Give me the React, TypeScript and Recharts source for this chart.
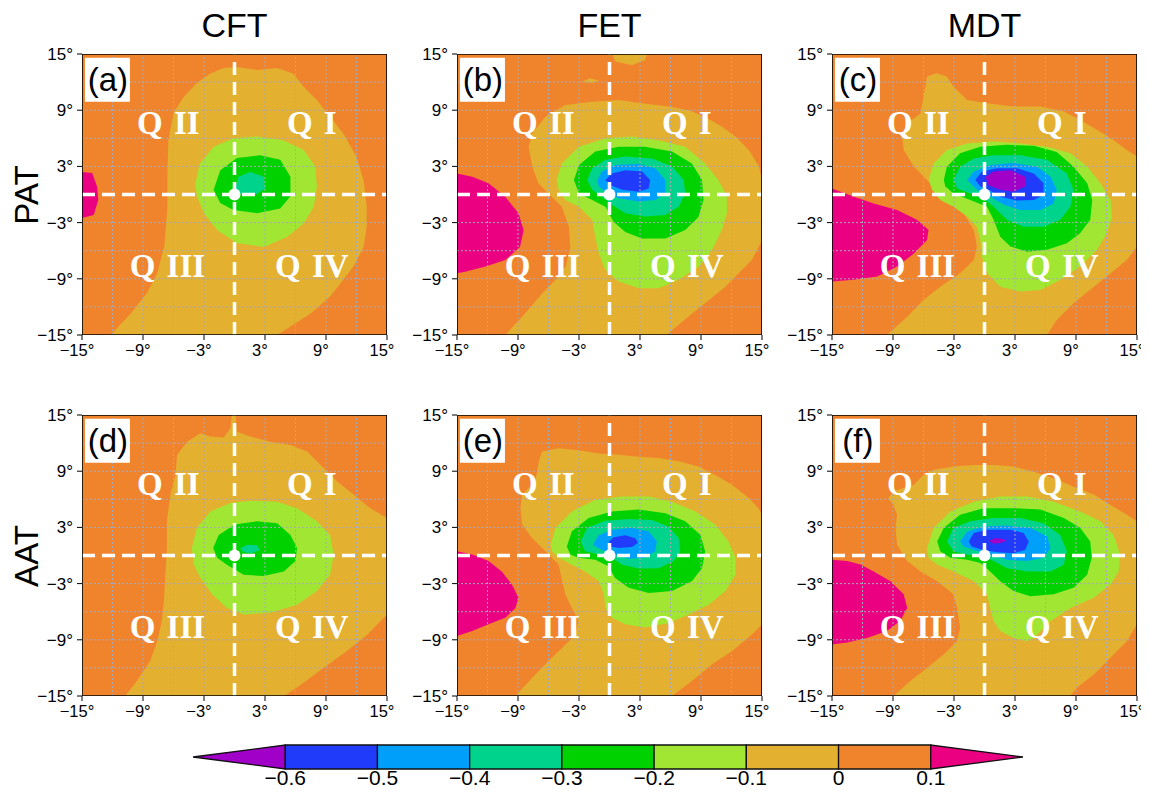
import React from "react"
import { ScatterChart, Scatter, XAxis, YAxis } from "recharts"

type Pt = [number, number]

const AXIS_TICKS = [-15, -9, -3, 3, 9, 15]
const GRID_STEPS = [-12, -9, -6, -3, 3, 6, 9, 12]
const COLUMN_TITLES = ["CFT", "FET", "MDT"]
const ROW_TITLES = ["PAT", "AAT"]
const PANEL_TAGS = ["(a)", "(b)", "(c)", "(d)", "(e)", "(f)"]
const QUADRANTS = [
  { x: -6.5, y: 7.6, t: "Q II" },
  { x: 7.6, y: 7.6, t: "Q I" },
  { x: -6.6, y: -7.6, t: "Q III" },
  { x: 7.6, y: -7.6, t: "Q IV" },
]

// contour levels and the band colours (below -0.6 ... above 0.1)
const LEVELS = [-0.6, -0.5, -0.4, -0.3, -0.2, -0.1, 0, 0.1]
const BAND_COLORS = [
  "#A000C8", "#203CFA", "#00A0FA", "#00D48C", "#00D200",
  "#A2E634", "#E4B030", "#F0842C", "#EC0082",
]
const PURPLE = 0, BLUE = 1, LBLUE = 2, TEAL = 3, GREEN = 4, LGREEN = 5, YELLOW = 6, ORANGE = 7, MAGENTA = 8

const DOMAIN_BOX: Pt[] = [[-15, -15], [-15, 15], [15, 15], [15, -15]]

// (a) CFT / PAT
const A_YEL: Pt[] = [[-12.2, -15], [-10.2, -12.7], [-8.6, -10.5], [-7.6, -8.4], [-6.9, -5.5], [-6.6, -1.3], [-6.6, 2.3], [-6.5, 5.8], [-6.0, 8.7], [-5.0, 10.4], [-3.7, 11.9], [-2.4, 12.9], [-1.1, 13.5], [0.2, 13.6], [2.2, 13.3], [4.2, 13.5], [5.8, 12.9], [6.8, 11.5], [8.1, 10.1], [9.4, 8.3], [10.7, 6.5], [12.0, 4.0], [12.7, 1.5], [13.0, -1.3], [13.0, -3.4], [12.7, -5.6], [11.7, -7.7], [10.7, -9.1], [9.4, -10.9], [7.5, -12.7], [5.5, -14.1], [4.2, -15]]
const A_LGR: Pt[] = [[-3.85, 1.2], [-3.4, 3.3], [-2.05, 5.1], [-0.1, 6.0], [2.2, 6.2], [4.8, 5.8], [6.8, 4.75], [7.95, 3.0], [8.1, 0.85], [7.8, -1.3], [6.8, -3.1], [5.2, -4.5], [2.9, -5.6], [0.25, -5.2], [-1.7, -3.8], [-3.0, -2.0], [-3.7, -0.2]]
const A_GRN: Pt[] = [[-2.05, 0.5], [-1.4, 2.6], [0.25, 3.9], [2.5, 4.2], [4.5, 3.7], [5.5, 1.9], [5.5, -0.2], [4.5, -1.5], [2.2, -2.0], [-0.1, -1.65], [-1.4, -0.9]]
const A_TEA: Pt[] = [[0.0, 0.5], [0.4, 1.9], [1.55, 2.4], [2.9, 1.9], [3.0, 0.65], [2.2, 0.05], [0.6, 0.05]]
const A_MAG: Pt[] = [[-15, 2.4], [-14.0, 2.3], [-13.5, 0.8], [-13.4, -0.6], [-13.85, -2.2], [-15, -2.5]]

// (b) FET / PAT
const B_YEL: Pt[] = [[-10.25, -15], [-8.3, -12.7], [-6.6, -10.55], [-5.3, -9.1], [-4.3, -7.7], [-3.85, -5.6], [-4.0, -3.4], [-4.7, -1.3], [-6.0, 0.1], [-7.0, 1.2], [-7.6, 3.0], [-7.95, 5.1], [-7.6, 6.5], [-6.3, 8.3], [-4.35, 9.55], [-1.7, 9.9], [0.9, 10.1], [3.5, 9.7], [5.8, 9.4], [7.8, 9.0], [9.4, 8.3], [11.1, 7.2], [12.4, 6.2], [13.7, 4.75], [14.7, 3.0], [15, 1.5], [15, -4.9], [14.0, -7.0], [12.7, -8.4], [11.4, -9.85], [9.4, -11.6], [7.8, -13.0], [6.15, -14.5], [5.65, -15]]
const B_YEL_TOP: Pt[] = [[0.25, 15], [0.6, 14.2], [2.2, 13.8], [3.5, 14.35], [3.7, 15]]
const B_YEL_SPOT: Pt[] = [[-2.7, 12.05], [-1.9, 12.4], [-1.05, 12.15], [-1.7, 11.9]]
const B_LGR: Pt[] = [[-5.2, 1.55], [-4.7, 3.3], [-3.0, 5.1], [-0.4, 6.0], [2.2, 6.2], [4.8, 5.8], [7.45, 5.1], [9.4, 3.3], [10.7, 1.55], [11.55, -0.2], [11.55, -2.0], [11.05, -3.8], [10.1, -5.9], [8.8, -7.7], [6.8, -9.1], [4.85, -10.0], [2.9, -10.0], [0.9, -9.3], [-0.4, -8.05], [-1.05, -6.3], [-1.4, -4.5], [-1.7, -2.7], [-3.0, -1.3], [-4.35, -0.6], [-5.0, 0.5]]
const B_GRN: Pt[] = [[-3.5, 1.55], [-3.0, 3.15], [-1.4, 4.6], [0.9, 5.1], [3.5, 5.1], [6.15, 4.6], [8.1, 3.3], [9.1, 1.55], [9.25, -0.6], [8.75, -2.4], [7.45, -3.8], [5.5, -4.7], [3.2, -4.7], [1.55, -4.0], [0.4, -2.9], [-0.4, -1.3], [-1.7, -0.6], [-3.0, 0.1]]
const B_TEA: Pt[] = [[-2.2, 1.55], [-1.7, 2.8], [-0.4, 3.7], [1.55, 4.05], [4.2, 3.85], [6.15, 3.0], [7.3, 1.55], [7.45, 0.1], [6.8, -1.3], [5.5, -2.2], [3.5, -2.35], [1.55, -2.0], [0.25, -1.1], [-0.75, -0.25], [-1.7, 0.5]]
const B_LBL: Pt[] = [[-1.2, 1.55], [-0.75, 2.45], [0.55, 3.15], [2.85, 3.25], [4.5, 2.8], [5.5, 1.55], [5.5, 0.1], [4.5, -0.6], [2.85, -0.75], [0.9, -0.4], [-0.4, 0.3], [-1.05, 0.85]]
const B_BLU: Pt[] = [[-0.4, 1.55], [0.25, 2.25], [1.55, 2.6], [3.2, 2.45], [4.0, 1.55], [3.85, 0.65], [2.85, 0.3], [1.25, 0.5], [0.1, 1.0]]
const B_MAG: Pt[] = [[-15, 2.25], [-13.5, 1.9], [-11.9, 1.2], [-10.25, -0.25], [-8.95, -2.0], [-8.45, -3.8], [-8.8, -5.6], [-10.25, -7.0], [-12.2, -7.7], [-14.2, -8.25], [-15, -8.4]]

// (c) MDT / PAT
const C_YEL: Pt[] = [[-9.6, -15], [-7.6, -13.05], [-6.0, -11.25], [-4.35, -9.85], [-2.4, -8.4], [-1.05, -7.0], [-0.75, -5.55], [-1.05, -3.8], [-2.05, -2.0], [-3.7, -0.25], [-5.35, 1.2], [-6.95, 3.0], [-7.95, 4.75], [-8.1, 6.2], [-7.6, 7.6], [-6.3, 8.65], [-6.0, 10.45], [-5.65, 12.6], [-4.7, 12.95], [-3.7, 12.6], [-3.05, 11.5], [-1.7, 10.1], [0.25, 9.75], [2.85, 9.4], [5.5, 9.4], [7.8, 8.85], [9.4, 7.95], [11.05, 6.9], [12.7, 5.8], [14.0, 4.75], [15, 4.05], [15, -5.55], [14.0, -7.0], [12.4, -8.4], [10.75, -9.85], [8.75, -11.6], [7.1, -13.4], [6.15, -15]]
const C_LGR: Pt[] = [[-5.5, 1.55], [-5.0, 3.3], [-3.7, 4.75], [-1.7, 5.45], [0.9, 5.65], [3.5, 5.45], [6.15, 5.1], [8.45, 4.4], [10.1, 3.0], [11.4, 1.2], [12.4, -0.6], [12.55, -2.35], [12.05, -4.15], [11.05, -5.9], [9.4, -7.7], [7.45, -9.1], [5.5, -10.2], [3.5, -10.35], [1.55, -9.85], [0.25, -8.4], [-0.25, -6.65], [-0.4, -4.85], [-0.75, -3.45], [-1.7, -2.35], [-3.05, -1.3], [-4.35, -0.6], [-5.15, 0.5]]
const C_GRN: Pt[] = [[-4.0, 1.55], [-3.7, 2.95], [-2.4, 4.4], [-0.4, 5.1], [2.2, 5.3], [4.85, 5.2], [7.1, 4.55], [8.75, 3.0], [10.1, 1.2], [10.6, -0.6], [10.4, -2.7], [9.4, -4.15], [8.1, -5.2], [6.15, -5.9], [4.2, -6.1], [2.55, -5.55], [1.55, -4.5], [0.9, -2.7], [0.25, -1.3], [-1.4, -0.6], [-3.05, 0.1], [-3.85, 0.85]]
const C_TEA: Pt[] = [[-3.05, 1.55], [-2.4, 2.95], [-1.05, 3.85], [0.9, 4.2], [3.5, 4.2], [6.15, 3.7], [8.1, 2.25], [8.75, 0.5], [8.45, -1.3], [7.45, -2.7], [5.8, -3.45], [3.85, -3.45], [2.2, -2.7], [0.9, -1.3], [-0.1, -0.4], [-1.4, 0.1], [-2.7, 0.65]]
const C_LBL: Pt[] = [[-1.7, 1.55], [-1.05, 2.45], [0.55, 3.15], [2.85, 3.35], [5.15, 3.0], [6.5, 1.9], [7.1, 0.5], [6.8, -0.95], [5.5, -1.65], [3.5, -1.65], [1.9, -1.1], [0.55, -0.25], [-0.75, 0.5]]
const C_BLU: Pt[] = [[-0.9, 1.55], [-0.25, 2.45], [1.25, 2.8], [3.2, 2.8], [4.85, 2.25], [5.8, 1.2], [5.8, -0.05], [4.85, -0.6], [3.2, -0.65], [1.55, -0.25], [0.4, 0.5], [-0.4, 0.85]]
const C_PUR: Pt[] = [[0.1, 1.9], [0.9, 2.45], [2.55, 2.6], [4.0, 1.9], [4.0, 0.85], [2.85, 0.3], [1.55, 0.5], [0.4, 1.0]]
const C_MAG: Pt[] = [[-15, 0.65], [-12.85, -0.25], [-10.9, -0.95], [-8.6, -1.65], [-6.65, -2.7], [-5.5, -3.8], [-5.65, -4.85], [-6.95, -6.3], [-8.6, -7.7], [-10.55, -8.75], [-12.85, -9.1], [-15, -9.3]]

// (d) CFT / AAT
const D_YEL: Pt[] = [[-10.75, -15], [-9.6, -13.4], [-8.3, -11.25], [-7.6, -9.15], [-7.15, -7.0], [-6.95, -4.9], [-6.8, -2.05], [-6.65, 0.8], [-6.65, 3.65], [-6.3, 6.5], [-5.8, 8.6], [-5.65, 10.75], [-4.65, 12.15], [-3.35, 13.05], [-2.4, 12.7], [-1.05, 12.6], [-0.4, 13.6], [-0.25, 15], [0.1, 15], [0.25, 13.2], [1.55, 12.7], [3.5, 12.15], [5.5, 11.8], [7.15, 11.1], [8.45, 9.7], [10.1, 7.9], [11.7, 6.5], [13.35, 5.05], [15, 4.0], [15, -6.3], [13.05, -8.45], [11.05, -10.2], [8.75, -12.0], [6.15, -14.1], [4.85, -15]]
const D_LGR: Pt[] = [[-4.2, 0.8], [-3.7, 2.95], [-2.4, 4.7], [-0.4, 5.6], [1.55, 5.85], [4.2, 5.75], [6.15, 5.05], [8.1, 3.65], [9.4, 2.2], [9.75, 0.1], [9.4, -2.05], [8.1, -3.8], [6.15, -5.25], [3.5, -6.1], [0.9, -6.3], [-0.75, -5.6], [-2.2, -4.15], [-3.35, -2.4], [-4.0, -1.0]]
const D_GRN: Pt[] = [[-2.1, 0.8], [-1.55, 2.2], [0.0, 3.3], [2.2, 3.65], [4.2, 3.45], [5.5, 2.2], [6.15, 0.8], [6.0, -0.6], [4.85, -1.7], [2.85, -2.2], [0.9, -2.05], [-0.75, -1.0], [-1.7, -0.25]]
const D_TEA: Pt[] = [[0.55, 0.75], [1.25, 1.15], [2.2, 1.1], [2.5, 0.6], [1.7, 0.25], [0.9, 0.35]]

// (e) FET / AAT
const E_YEL: Pt[] = [[-9.25, -15], [-7.6, -13.05], [-6.0, -11.25], [-4.65, -9.85], [-3.35, -8.45], [-3.05, -7.0], [-3.7, -5.6], [-4.35, -4.15], [-4.65, -2.75], [-5.0, -0.95], [-6.3, 0.45], [-7.6, 1.85], [-8.6, 3.3], [-8.75, 5.05], [-8.6, 6.5], [-7.3, 7.9], [-6.95, 10.05], [-6.65, 11.1], [-5.0, 11.45], [-3.05, 11.25], [-1.05, 10.9], [0.9, 10.75], [2.85, 10.55], [4.85, 10.4], [6.8, 10.05], [8.75, 9.5], [10.4, 8.6], [12.05, 7.55], [13.7, 6.15], [14.65, 5.05], [15, 4.35], [15, -7.35], [14.0, -8.45], [12.05, -10.2], [10.1, -11.6], [8.1, -13.4], [6.15, -15]]
const E_LGR: Pt[] = [[-5.8, 1.15], [-5.3, 2.95], [-3.7, 4.7], [-1.4, 5.95], [1.25, 6.3], [3.85, 6.3], [6.15, 5.75], [8.45, 4.7], [10.4, 3.3], [11.7, 1.5], [12.4, -0.25], [12.4, -2.05], [11.4, -3.8], [9.75, -5.25], [7.8, -6.3], [5.8, -7.2], [3.5, -7.7], [1.55, -7.35], [0.25, -6.65], [-0.4, -5.6], [-0.55, -4.15], [-1.05, -2.75], [-2.4, -1.7], [-3.7, -1.0], [-5.0, -0.25], [-5.65, 0.45]]
const E_GRN: Pt[] = [[-4.2, 0.95], [-3.7, 2.6], [-2.05, 4.0], [0.25, 4.7], [2.85, 4.9], [5.5, 4.5], [7.45, 3.65], [8.95, 2.2], [9.4, 0.45], [9.1, -1.35], [8.1, -2.75], [6.15, -3.8], [3.85, -4.0], [1.9, -3.45], [0.55, -2.4], [-0.1, -1.15], [-1.4, -0.45], [-3.05, -0.25], [-3.85, 0.1]]
const E_TEA: Pt[] = [[-2.85, 1.5], [-2.2, 2.95], [-0.4, 3.7], [1.9, 3.9], [4.2, 3.8], [5.8, 3.1], [6.8, 1.85], [6.95, 0.45], [6.3, -0.6], [4.85, -1.35], [2.85, -1.4], [1.25, -1.0], [0.25, -0.25], [-1.05, 0.1], [-2.4, 0.45]]
const E_LBL: Pt[] = [[-1.65, 1.15], [-1.05, 2.2], [0.25, 2.75], [2.2, 2.95], [3.85, 2.6], [4.65, 1.5], [4.5, 0.45], [3.5, -0.25], [1.9, -0.35], [0.55, 0.1], [-0.75, 0.6]]
const E_BLU: Pt[] = [[-0.05, 1.5], [0.4, 1.95], [1.55, 2.15], [2.55, 1.85], [2.8, 1.35], [2.2, 0.9], [0.9, 0.8], [0.1, 0.95]]
const E_MAG: Pt[] = [[-15, 0.45], [-13.5, 0.1], [-11.9, -0.6], [-10.6, -1.7], [-9.6, -3.1], [-8.95, -4.5], [-9.25, -5.6], [-10.25, -6.65], [-11.9, -7.35], [-13.5, -8.05], [-15, -8.6]]

// (f) MDT / AAT
const F_YEL: Pt[] = [[-8.95, -15], [-7.3, -13.4], [-5.65, -12.0], [-4.0, -10.55], [-2.7, -9.15], [-2.4, -7.7], [-2.7, -5.6], [-3.05, -4.15], [-4.65, -2.75], [-6.3, -1.7], [-7.6, -0.6], [-8.6, 1.15], [-8.75, 2.95], [-8.6, 4.35], [-8.95, 5.4], [-9.45, 6.15], [-8.95, 6.85], [-6.95, 7.55], [-6.0, 8.6], [-5.0, 9.15], [-3.05, 9.5], [-1.05, 9.65], [0.9, 9.65], [2.85, 9.5], [4.85, 8.95], [6.8, 8.25], [8.75, 7.35], [10.75, 6.5], [12.4, 5.4], [14.0, 4.35], [15, 3.65], [15, -7.35], [14.0, -9.15], [12.4, -10.9], [10.75, -12.7], [9.1, -14.1], [8.45, -15]]
const F_LGR: Pt[] = [[-5.65, 0.8], [-5.0, 2.95], [-3.35, 4.7], [-1.05, 5.75], [1.55, 6.3], [4.2, 6.3], [6.8, 5.75], [9.4, 4.7], [11.4, 3.65], [12.7, 2.2], [13.35, 0.1], [13.2, -1.7], [12.4, -3.1], [10.75, -4.5], [8.45, -5.6], [6.5, -7.0], [4.85, -8.8], [4.2, -9.15], [2.85, -8.8], [1.55, -8.05], [0.9, -7.0], [0.55, -5.6], [0.25, -4.15], [-1.05, -2.75], [-3.05, -1.7], [-4.65, -1.0], [-5.5, -0.25]]
const F_GRN: Pt[] = [[-4.65, 1.5], [-4.0, 2.95], [-2.4, 4.35], [-0.1, 5.05], [2.85, 5.05], [5.5, 4.9], [7.8, 4.0], [9.4, 2.95], [10.4, 1.5], [10.55, -0.25], [10.1, -2.05], [8.75, -3.45], [6.8, -4.15], [4.5, -4.35], [2.85, -3.8], [1.55, -2.75], [0.55, -1.7], [-0.4, -0.8], [-1.7, -0.45], [-3.35, -0.25], [-4.35, 0.45]]
const F_TEA: Pt[] = [[-3.7, 1.5], [-3.05, 2.95], [-1.4, 3.65], [0.9, 4.0], [3.5, 4.0], [5.8, 3.45], [7.45, 2.2], [8.1, 0.45], [7.8, -1.0], [6.5, -1.7], [4.2, -1.7], [2.2, -1.35], [0.9, -0.6], [-0.1, -0.1], [-1.7, 0.1], [-3.05, 0.45]]
const F_LBL: Pt[] = [[-2.4, 1.5], [-1.7, 2.55], [-0.1, 3.1], [2.2, 3.2], [4.5, 2.95], [6.15, 2.05], [6.5, 0.8], [5.8, -0.25], [4.2, -0.6], [2.2, -0.45], [0.55, 0.1], [-1.05, 0.6], [-2.05, 0.95]]
const F_BLU: Pt[] = [[-1.55, 1.5], [-1.05, 2.4], [0.25, 2.75], [2.55, 2.75], [3.85, 2.4], [4.35, 1.5], [4.0, 0.6], [2.85, 0.25], [1.25, 0.35], [-0.1, 0.6], [-1.25, 0.95]]
const F_PUR: Pt[] = [[0.4, 1.6], [1.05, 1.85], [1.7, 1.8], [2.2, 1.6], [1.7, 1.35], [0.9, 1.25]]
const F_MAG: Pt[] = [[-15, -0.45], [-13.5, -0.6], [-12.2, -0.95], [-10.9, -1.7], [-9.25, -2.75], [-7.95, -4.15], [-7.6, -5.6], [-8.3, -7.0], [-9.6, -8.05], [-11.55, -8.8], [-13.5, -9.3], [-15, -9.5]]

type Layer = [Pt[], number]

const PANEL_LAYERS: Layer[][] = [
  [[A_YEL, YELLOW], [A_MAG, MAGENTA], [A_LGR, LGREEN], [A_GRN, GREEN], [A_TEA, TEAL]],
  [[B_YEL, YELLOW], [B_YEL_TOP, YELLOW], [B_YEL_SPOT, YELLOW], [B_MAG, MAGENTA], [B_LGR, LGREEN], [B_GRN, GREEN], [B_TEA, TEAL], [B_LBL, LBLUE], [B_BLU, BLUE]],
  [[C_YEL, YELLOW], [C_MAG, MAGENTA], [C_LGR, LGREEN], [C_GRN, GREEN], [C_TEA, TEAL], [C_LBL, LBLUE], [C_BLU, BLUE], [C_PUR, PURPLE]],
  [[D_YEL, YELLOW], [D_LGR, LGREEN], [D_GRN, GREEN], [D_TEA, TEAL]],
  [[E_YEL, YELLOW], [E_MAG, MAGENTA], [E_LGR, LGREEN], [E_GRN, GREEN], [E_TEA, TEAL], [E_LBL, LBLUE], [E_BLU, BLUE]],
  [[F_YEL, YELLOW], [F_MAG, MAGENTA], [F_LGR, LGREEN], [F_GRN, GREEN], [F_TEA, TEAL], [F_LBL, LBLUE], [F_BLU, BLUE], [F_PUR, PURPLE]],
]

const SANS = "'Liberation Sans', Arial, Helvetica, sans-serif"
const SERIF = "'Liberation Serif', 'Times New Roman', serif"

// plot area geometry
const PLOT_W = 305
const PLOT_H = 281
const COL_LEFT = [82, 457, 832]
const ROW_TOP = [54, 415]
const Y_AXIS_W = 60
const X_AXIS_H = 30
const M_TOP = 10
const M_RIGHT = 14

const toXY = (pts: Pt[]) => pts.map(([x, y]) => ({ x, y }))
const deg = (v: number) => (v < 0 ? "\u2212" + Math.abs(v) : String(v)) + "\u00b0"
const cbLabel = (v: number) => (v === 0 ? "0" : v < 0 ? "\u2212" + Math.abs(v).toFixed(1) : v.toFixed(1))

const NoDot = () => <g />

const OriginDot = (p: any) => <circle cx={p.cx} cy={p.cy} r={6} fill="#fff" />

// x tick labels sit a little left of their tick, as in the source figure
const XTick = (p: any) => (
  <text x={p.x - 5} y={p.y} dy="0.71em" textAnchor="middle" fill="#000" fontSize={16.5} fontFamily={SANS}>
    {deg(p.payload.value)}
  </text>
)

const QuadLabel = (p: any) => (
  <text
    x={p.cx}
    y={p.cy}
    textAnchor="middle"
    dominantBaseline="central"
    fill="#fff"
    fontFamily={SERIF}
    fontWeight="bold"
    fontSize={33}
    wordSpacing={3}
  >
    {p.payload.t}
  </text>
)

const TagBox = (p: any) => (
  <g>
    <rect x={p.cx - 23} y={p.cy - 22} width={45} height={44} fill="#fff" />
    <text x={p.cx} y={p.cy} textAnchor="middle" dominantBaseline="central" fill="#000" fontFamily={SANS} fontSize={33}>
      {p.payload.t}
    </text>
  </g>
)

function Panel({ idx }: { idx: number }) {
  const left = COL_LEFT[idx % 3]
  const top = ROW_TOP[Math.floor(idx / 3)]
  const layers = PANEL_LAYERS[idx]
  const gridStyle = { stroke: "#a9a9b8", strokeWidth: 1, strokeDasharray: "2 2" }
  const dashStyle = { stroke: "#fff", strokeWidth: 3.5, strokeDasharray: "13 7" }

  return (
    <div style={{ position: "absolute", left: left - Y_AXIS_W, top: top - M_TOP }}>
      <ScatterChart
        width={PLOT_W + Y_AXIS_W + M_RIGHT}
        height={PLOT_H + M_TOP + X_AXIS_H}
        margin={{ top: M_TOP, right: M_RIGHT, bottom: 0, left: 0 }}
        style={{ overflow: "visible" }}
      >
        <XAxis
          type="number"
          dataKey="x"
          domain={[-15, 15]}
          ticks={AXIS_TICKS}
          interval={0}
          allowDataOverflow
          height={X_AXIS_H}
          axisLine={false}
          tickLine={{ stroke: "#000" }}
          tickSize={5}
          tickMargin={4}
          tick={XTick}
        />
        <YAxis
          type="number"
          dataKey="y"
          domain={[-15, 15]}
          ticks={AXIS_TICKS}
          interval={0}
          allowDataOverflow
          tickFormatter={deg}
          width={Y_AXIS_W}
          axisLine={false}
          tickLine={{ stroke: "#000" }}
          tickSize={5}
          tickMargin={4}
          tick={{ fill: "#000", fontSize: 17, fontFamily: SANS }}
        />

        <Scatter
          data={toXY(DOMAIN_BOX)}
          shape={NoDot}
          line={{ fill: BAND_COLORS[ORANGE], stroke: "none" }}
          lineJointType="linearClosed"
          isAnimationActive={false}
        />
        {layers.map(([pts, band], i) => (
          <Scatter
            key={"c" + i}
            data={toXY(pts)}
            shape={NoDot}
            line={{ fill: BAND_COLORS[band], stroke: "none" }}
            lineJointType="linearClosed"
            isAnimationActive={false}
          />
        ))}

        {/* dotted grid over the shading */}
        {GRID_STEPS.map((g) => (
          <Scatter
            key={"gx" + g}
            data={[{ x: g, y: -15 }, { x: g, y: 15 }]}
            shape={NoDot}
            line={gridStyle}
            isAnimationActive={false}
          />
        ))}
        {GRID_STEPS.map((g) => (
          <Scatter
            key={"gy" + g}
            data={[{ x: -15, y: g }, { x: 15, y: g }]}
            shape={NoDot}
            line={gridStyle}
            isAnimationActive={false}
          />
        ))}

        {/* quadrant axes */}
        <Scatter data={[{ x: 0, y: -15 }, { x: 0, y: 15 }]} shape={NoDot} line={dashStyle} isAnimationActive={false} />
        <Scatter data={[{ x: -15, y: 0 }, { x: 15, y: 0 }]} shape={NoDot} line={dashStyle} isAnimationActive={false} />
        <Scatter data={[{ x: 0, y: 0 }]} shape={OriginDot} isAnimationActive={false} />

        <Scatter
          data={toXY(DOMAIN_BOX)}
          shape={NoDot}
          line={{ fill: "none", stroke: "#000", strokeWidth: 1.6 }}
          lineJointType="linearClosed"
          isAnimationActive={false}
        />

        <Scatter data={QUADRANTS} shape={QuadLabel} isAnimationActive={false} />
        <Scatter data={[{ x: -12.45, y: 12.25, t: PANEL_TAGS[idx] }]} shape={TagBox} isAnimationActive={false} />
      </ScatterChart>
    </div>
  )
}

function ColorBar() {
  const step = LEVELS[1] - LEVELS[0]
  const lo = LEVELS[0] - step
  const hi = LEVELS[LEVELS.length - 1] + step
  const cells: Pt[][] = BAND_COLORS.map((_, i) => {
    if (i === 0) return [[lo, 0.5], [LEVELS[0], 1], [LEVELS[0], 0]]
    if (i === BAND_COLORS.length - 1) {
      const a = LEVELS[LEVELS.length - 1]
      return [[a, 0], [a, 1], [hi, 0.5]]
    }
    const a = LEVELS[i - 1]
    const b = LEVELS[i]
    return [[a, 0], [a, 1], [b, 1], [b, 0]]
  })

  return (
    <div style={{ position: "absolute", left: 173, top: 743 }}>
      <ScatterChart width={870} height={48} margin={{ top: 2, right: 20, bottom: 0, left: 20 }}>
        <XAxis
          type="number"
          dataKey="x"
          domain={[lo, hi]}
          ticks={LEVELS}
          interval={0}
          allowDataOverflow
          tickFormatter={cbLabel}
          height={22}
          axisLine={false}
          tickLine={false}
          tickSize={0}
          tickMargin={1}
          tick={{ fill: "#000", fontSize: 21, fontFamily: SANS }}
        />
        <YAxis type="number" dataKey="y" domain={[0, 1]} hide />
        {cells.map((pts, i) => (
          <Scatter
            key={"cb" + i}
            data={toXY(pts)}
            shape={NoDot}
            line={{ fill: BAND_COLORS[i], stroke: "#111", strokeWidth: 1.3 }}
            lineJointType="linearClosed"
            isAnimationActive={false}
          />
        ))}
      </ScatterChart>
    </div>
  )
}

export default function App() {
  return (
    <div style={{ position: "relative", width: 1149, height: 794, margin: -8, background: "#fff", fontFamily: SANS, overflow: "hidden" }}>
      {COLUMN_TITLES.map((t, i) => (
        <div
          key={t}
          style={{
            position: "absolute",
            left: COL_LEFT[i],
            width: PLOT_W,
            top: 4,
            lineHeight: "42px",
            textAlign: "center",
            fontSize: 34,
            color: "#000",
          }}
        >
          {t}
        </div>
      ))}
      {ROW_TITLES.map((t, i) => (
        <div
          key={t}
          style={{
            position: "absolute",
            left: 27 - 60,
            top: ROW_TOP[i] + PLOT_H / 2 - 21,
            width: 120,
            lineHeight: "42px",
            textAlign: "center",
            fontSize: 33,
            color: "#000",
            transform: "rotate(-90deg)",
          }}
        >
          {t}
        </div>
      ))}
      {PANEL_TAGS.map((_, i) => (
        <Panel key={i} idx={i} />
      ))}
      <ColorBar />
    </div>
  )
}
